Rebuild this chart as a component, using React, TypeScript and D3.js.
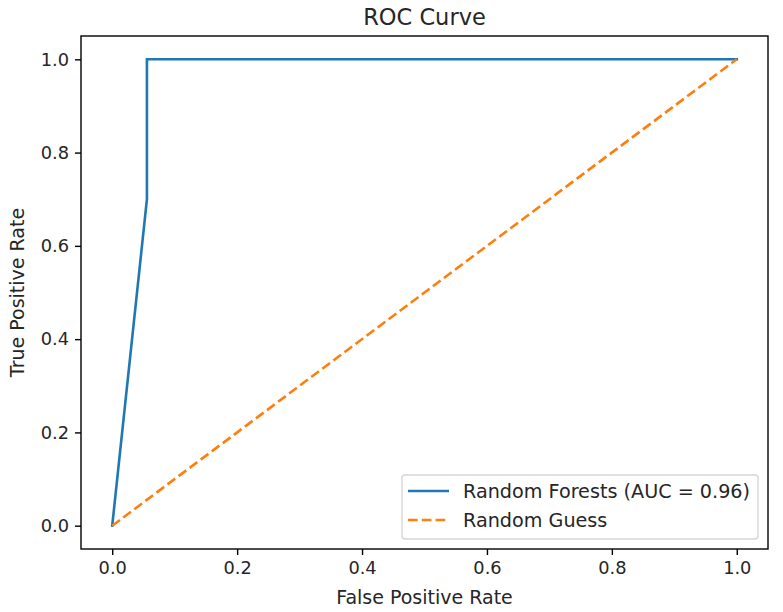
import * as React from "react";
import * as d3 from "d3";

// ROC points for the classifier
const fpr = [0, 1 / 18, 1 / 18, 1];
const tpr = [0, 0.7, 1, 1];
// diagonal reference
const guessX = [0, 1];
const guessY = [0, 1];
const xTicks = [0, 0.2, 0.4, 0.6, 0.8, 1.0];
const yTicks = [0, 0.2, 0.4, 0.6, 0.8, 1.0];
const seriesNames = ["Random Forests (AUC = 0.96)", "Random Guess"];
const seriesColors = ["#1f77b4", "#ff7f0e"];

const W = 783;
const H = 612;
const left = 81;
const right = 768;
const top = 36;
const bottom = 549;
const font = "DejaVu Sans, sans-serif";
const tickFs = 17.8;
const labelFs = 19;

const App = () => {
  const ref = React.useRef(null);

  React.useEffect(() => {
    const svg = d3.select(ref.current);
    svg.selectAll("*").remove();

    const x = d3.scaleLinear().domain([-0.05, 1.05]).range([left, right]);
    const y = d3.scaleLinear().domain([-0.05, 1.05]).range([bottom, top]);

    const pathFor = (xs: number[], ys: number[]) =>
      d3
        .line<number>()
        .x(i => x(xs[i]))
        .y(i => y(ys[i]))(d3.range(xs.length));

    svg
      .append("path")
      .attr("d", pathFor(fpr, tpr))
      .attr("fill", "none")
      .attr("stroke", seriesColors[0])
      .attr("stroke-width", 2.6)
      .attr("stroke-linejoin", "miter")
      .attr("stroke-linecap", "square");

    svg
      .append("path")
      .attr("d", pathFor(guessX, guessY))
      .attr("fill", "none")
      .attr("stroke", seriesColors[1])
      .attr("stroke-width", 2.6)
      .attr("stroke-dasharray", "9.6,4.2");

    // x axis
    const gx = svg.append("g").attr("transform", `translate(0,${bottom})`);
    gx.call(
      d3
        .axisBottom(x)
        .tickValues(xTicks)
        .tickFormat(d3.format(".1f"))
        .tickSize(6)
        .tickPadding(6)
    );
    gx.select(".domain").remove();
    gx.selectAll("line").attr("stroke", "#000").attr("stroke-width", 1.4);
    gx.selectAll("text")
      .attr("font-family", font)
      .attr("font-size", tickFs)
      .attr("fill", "#262626");

    // y axis
    const gy = svg.append("g").attr("transform", `translate(${left},0)`);
    gy.call(
      d3
        .axisLeft(y)
        .tickValues(yTicks)
        .tickFormat(d3.format(".1f"))
        .tickSize(6)
        .tickPadding(6)
    );
    gy.select(".domain").remove();
    gy.selectAll("line").attr("stroke", "#000").attr("stroke-width", 1.4);
    gy.selectAll("text")
      .attr("font-family", font)
      .attr("font-size", tickFs)
      .attr("fill", "#262626");

    // frame
    svg
      .append("rect")
      .attr("x", left)
      .attr("y", top)
      .attr("width", right - left)
      .attr("height", bottom - top)
      .attr("fill", "none")
      .attr("stroke", "#000")
      .attr("stroke-width", 1.4);

    svg
      .append("text")
      .attr("x", (left + right) / 2)
      .attr("y", 25)
      .attr("text-anchor", "middle")
      .attr("font-family", font)
      .attr("font-size", 22.5)
      .attr("fill", "#262626")
      .text("ROC Curve");

    svg
      .append("text")
      .attr("x", (left + right) / 2)
      .attr("y", 604)
      .attr("text-anchor", "middle")
      .attr("font-family", font)
      .attr("font-size", labelFs)
      .attr("fill", "#262626")
      .text("False Positive Rate");

    svg
      .append("text")
      .attr("transform", `translate(24,${(top + bottom) / 2}) rotate(-90)`)
      .attr("text-anchor", "middle")
      .attr("font-family", font)
      .attr("font-size", labelFs)
      .attr("fill", "#262626")
      .text("True Positive Rate");

    // legend
    const lg = svg.append("g").attr("transform", "translate(402,475)");
    lg.append("rect")
      .attr("width", 356)
      .attr("height", 64)
      .attr("rx", 3)
      .attr("fill", "#fff")
      .attr("fill-opacity", 0.8)
      .attr("stroke", "#d6d6d6")
      .attr("stroke-width", 1.4);
    seriesNames.forEach((name, i) => {
      const yy = 16 + i * 29;
      lg.append("line")
        .attr("x1", 6)
        .attr("x2", 47)
        .attr("y1", yy)
        .attr("y2", yy)
        .attr("stroke", seriesColors[i])
        .attr("stroke-width", 2.6)
        .attr("stroke-dasharray", i === 1 ? "9.6,4.2" : null);
      lg.append("text")
        .attr("x", 61)
        .attr("y", yy)
        .attr("dy", "0.35em")
        .attr("font-family", font)
        .attr("font-size", 19.2)
        .attr("fill", "#262626")
        .text(name);
    });
  }, []);

  return (
    <svg
      ref={ref}
      width={W}
      height={H}
      style={{ position: "absolute", left: 0, top: 0, background: "#fff" }}
    />
  );
};

export default App;
